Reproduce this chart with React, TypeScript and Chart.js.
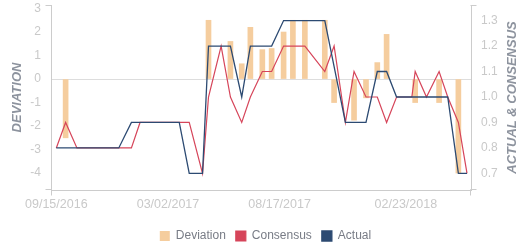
import React, { useEffect, useRef } from 'react';
import { Chart, registerables } from 'chart.js';

Chart.register(...registerables);

// ---- data ----
const dates = [
  '09/15/2016', '09/29/2016', '10/16/2016', '12/18/2016', '01/06/2017', '01/19/2017',
  '03/19/2017', '04/03/2017', '04/23/2017', '05/02/2017', '05/21/2017', '06/04/2017',
  '06/21/2017', '07/04/2017', '07/22/2017', '08/05/2017', '08/23/2017', '09/06/2017',
  '09/24/2017', '10/24/2017', '11/07/2017', '11/24/2017', '12/07/2017', '12/25/2017',
  '01/11/2018', '01/25/2018', '02/09/2018', '03/04/2018', '03/09/2018', '03/26/2018',
  '04/14/2018', '04/27/2018', '05/13/2018', '05/26/2018',
];

const actual = [
  0.8, 0.8, 0.8, 0.8, 0.9, null,
  0.9, 0.7, 0.7, 1.2, null, 1.2,
  1.0, 1.2, null, 1.2, 1.3, null,
  null, 1.3, null, 0.9, null, 0.9,
  1.1, 1.1, 1.0, null, null, null,
  null, 1.0, 0.7, 0.7,
];

const consensus = [
  0.8, 0.9, 0.8, null, 0.8, 0.9,
  null, 0.9, 0.7, 1.0, 1.2, 1.0,
  0.9, 1.0, 1.1, 1.1, 1.2, null,
  1.2, 1.1, 1.2, 0.9, 1.1, 1.0,
  1.0, 0.9, 1.0, 1.0, 1.1, 1.0,
  1.1, 1.0, 0.9, 0.7,
];

const deviation = [
  null, -2.5, null, null, null, null,
  null, null, null, 2.5, null, 1.6,
  0.65, 2.2, 1.25, 1.3, 2.0, 2.5,
  2.5, 2.5, -1.0, null, -1.75, -0.8,
  0.7, 1.9, null, null, -1.0, null,
  -1.0, null, -4.0, null,
];

const xTickLabels = ['09/15/2016', '03/02/2017', '08/17/2017', '02/23/2018'];
const leftTicks = [-4, -3, -2, -1, 0, 1, 2, 3];
const rightTicks = [0.7, 0.8, 0.9, 1.0, 1.1, 1.2, 1.3];

const xRange = { min: '09/07/2016', max: '06/01/2018' };
const leftRange = { min: -4.72, max: 3.15 };
const rightRange = { min: 0.635, max: 1.361 };

// ---- helpers ----
const BASE = Date.UTC(2016, 8, 15);
const DAY = 86400000;
function dayOf(s: string): number {
  const [m, d, y] = s.split('/').map(Number);
  return (Date.UTC(y, m - 1, d) - BASE) / DAY;
}
function fmt(day: number): string {
  const dt = new Date(BASE + Math.round(day) * DAY);
  const mm = String(dt.getUTCMonth() + 1).padStart(2, '0');
  const dd = String(dt.getUTCDate()).padStart(2, '0');
  return `${mm}/${dd}/${dt.getUTCFullYear()}`;
}

const FONT = '"Liberation Sans", Arial, sans-serif';
const AXIS_COLOR = '#cccccc';
const TICK_COLOR = '#c9c9c9';
const TITLE_COLOR = '#8d939e';

const decorPlugin = {
  id: 'decor',
  afterDraw(chart: any) {
    const { ctx, chartArea } = chart;
    const { left, right, top, bottom } = chartArea;
    const L = Math.round(left) + 0.5;
    const R = Math.round(right) - 0.5;
    const T = Math.round(top) + 0.5;
    const B = Math.round(bottom) - 0.5;
    ctx.save();
    ctx.strokeStyle = AXIS_COLOR;
    ctx.lineWidth = 1;
    ctx.beginPath();
    // end tick marks of the axes
    ctx.moveTo(L - 6, T); ctx.lineTo(L, T);
    ctx.moveTo(L - 6, B); ctx.lineTo(L, B);
    ctx.moveTo(R, T); ctx.lineTo(R + 6, T);
    ctx.moveTo(R, B); ctx.lineTo(R + 6, B);
    ctx.moveTo(L, B); ctx.lineTo(L, B + 6);
    ctx.moveTo(R, B); ctx.lineTo(R, B + 6);
    ctx.stroke();

    // axis titles
    const cy = (top + bottom) / 2;
    ctx.fillStyle = TITLE_COLOR;
    ctx.font = `italic bold 13px ${FONT}`;
    ctx.textAlign = 'center';
    ctx.textBaseline = 'middle';
    ctx.save();
    ctx.translate(chart.scales.y.left + 17.5, cy);
    ctx.rotate(-Math.PI / 2);
    ctx.fillText('DEVIATION', 0, 0);
    ctx.restore();
    ctx.save();
    ctx.translate(chart.scales.y1.right - 18.5, cy);
    ctx.rotate(-Math.PI / 2);
    ctx.fillText('ACTUAL & CONSENSUS', 0, 0);
    ctx.restore();
    ctx.restore();
  },
};

export default function App() {
  const canvasRef = useRef<HTMLCanvasElement | null>(null);

  useEffect(() => {
    if (!canvasRef.current) return;
    const xs = dates.map(dayOf);
    const toPts = (arr: (number | null)[]) => xs.map((x, i) => ({ x, y: arr[i] }));

    const chart = new Chart(canvasRef.current, {
      type: 'bar',
      data: {
        datasets: [
          {
            type: 'bar',
            label: 'Deviation',
            data: toPts(deviation) as any,
            yAxisID: 'y',
            backgroundColor: '#f5cd9e',
            borderWidth: 0,
            barThickness: 5,
            order: 2,
          },
          {
            type: 'line',
            label: 'Consensus',
            data: toPts(consensus) as any,
            yAxisID: 'y1',
            borderColor: '#d6455a',
            backgroundColor: '#d6455a',
            borderWidth: 1.2,
            pointRadius: 0,
            tension: 0,
            spanGaps: true,
            order: 1,
          },
          {
            type: 'line',
            label: 'Actual',
            data: toPts(actual) as any,
            yAxisID: 'y1',
            borderColor: '#2c4a72',
            backgroundColor: '#2c4a72',
            borderWidth: 1.3,
            pointRadius: 0,
            tension: 0,
            spanGaps: true,
            order: 0,
          },
        ],
      },
      options: {
        animation: false,
        responsive: true,
        maintainAspectRatio: false,
        layout: { padding: { top: 5, left: 0, right: 0, bottom: 0 } },
        plugins: {
          tooltip: { enabled: false },
          legend: {
            display: true,
            position: 'bottom',
            labels: {
              boxWidth: 10,
              boxHeight: 10,
              padding: 10,
              color: '#787c86',
              font: { family: FONT, size: 12 },
              sort: (a: any, b: any) => a.datasetIndex - b.datasetIndex,
            },
          },
        },
        scales: {
          x: {
            type: 'linear',
            offset: false,
            min: dayOf(xRange.min),
            max: dayOf(xRange.max),
            grid: { display: false, drawTicks: false, offset: false },
            border: { display: true, color: AXIS_COLOR },
            afterBuildTicks: (scale: any) => {
              scale.ticks = xTickLabels.map((s) => ({ value: dayOf(s) }));
            },
            afterFit: (scale: any) => {
              scale.height = 30;
              scale.paddingLeft = 0;
              scale.paddingRight = 0;
            },
            ticks: {
              autoSkip: false,
              maxRotation: 0,
              padding: 7,
              color: TICK_COLOR,
              font: { family: FONT, size: 12.5 },
              callback: (v: any) => fmt(Number(v)),
            },
          },
          y: {
            type: 'linear',
            position: 'left',
            min: leftRange.min,
            max: leftRange.max,
            afterBuildTicks: (scale: any) => {
              scale.ticks = leftTicks.map((v) => ({ value: v }));
            },
            afterFit: (scale: any) => {
              scale.width = 51;
              scale.paddingTop = 0;
              scale.paddingBottom = 0;
            },
            grid: {
              drawTicks: false,
              color: (c: any) => (c.tick && c.tick.value === 0 ? '#dddddd' : 'rgba(0,0,0,0)'),
            },
            border: { display: true, color: AXIS_COLOR },
            ticks: {
              padding: 10,
              color: TICK_COLOR,
              font: { family: FONT, size: 12 },
              callback: (v: any) => String(v),
            },
          },
          y1: {
            type: 'linear',
            position: 'right',
            min: rightRange.min,
            max: rightRange.max,
            afterBuildTicks: (scale: any) => {
              scale.ticks = rightTicks.map((v) => ({ value: v }));
            },
            afterFit: (scale: any) => {
              scale.width = 60;
              scale.paddingTop = 0;
              scale.paddingBottom = 0;
            },
            grid: { display: false, drawTicks: false },
            border: { display: true, color: AXIS_COLOR },
            ticks: {
              padding: 10,
              color: TICK_COLOR,
              font: { family: FONT, size: 12 },
              callback: (v: any) => Number(v).toFixed(1),
            },
          },
        },
      } as any,
      plugins: [decorPlugin],
    });

    return () => chart.destroy();
  }, []);

  return (
    <div style={{ position: 'fixed', left: 0, top: 0, width: 531, height: 252, background: '#fff' }}>
      <canvas ref={canvasRef} />
    </div>
  );
}
